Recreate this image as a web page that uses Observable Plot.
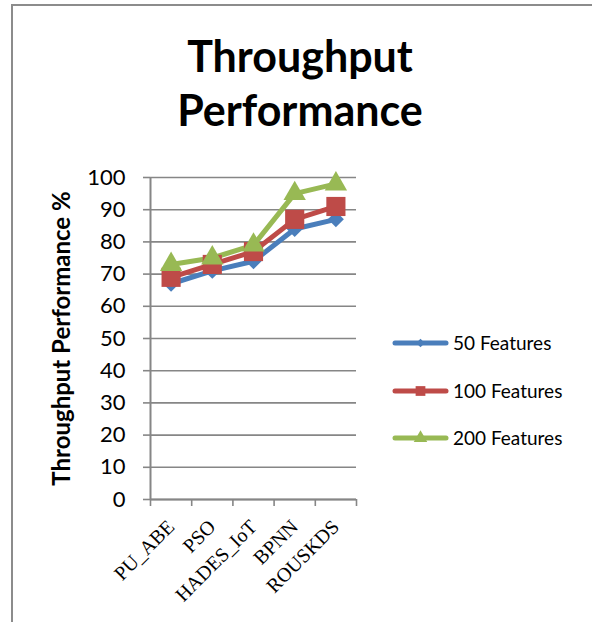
<!DOCTYPE html>
<html><head><meta charset="utf-8">
<script src="https://cdn.jsdelivr.net/npm/d3@7"></script>
<script src="https://cdn.jsdelivr.net/npm/@observablehq/plot@0.6"></script>
<style>
body{margin:0;background:#fff;}
#wrap{position:relative;width:592px;height:622px;overflow:hidden;font-family:Lato,sans-serif;background:#fff;}
#frame{position:absolute;left:11px;top:4px;width:700px;height:700px;border-left:2px solid #8c8c8c;border-top:2px solid #8c8c8c;}
#title{position:absolute;left:0;width:600px;top:29px;text-align:center;font-weight:700;font-size:43px;line-height:54px;color:#000;}
#chart{position:absolute;left:0;top:0;}
#legend{position:absolute;left:0;top:0;}
</style></head>
<body>
<div id="wrap">
  <div id="frame"></div>
  <div id="chart"></div>
  <div id="title">Throughput<br>Performance</div>
  <svg id="legend" width="592" height="622"></svg>
</div>
<script>
const categories = ["PU_ABE", "PSO", "HADES_IoT", "BPNN", "ROUSKDS"];
const series = ["50 Features", "100 Features", "200 Features"];
const values50 = [67, 71, 74, 84, 87];
const values100 = [69, 73, 77, 87, 91];
const values200 = [73, 75, 79, 95, 98];
const yTicks = [0, 10, 20, 30, 40, 50, 60, 70, 80, 90, 100];
const colors = ["#4a7ebb", "#be4b48", "#98b954"];
const symbols = ["diamond2", "square", "triangle"];
const markerR = [7.2, 10.8, 8.3];
const yLabel = "Throughput Performance %";

const seriesValues = [values50, values100, values200];
const rows = [];
series.forEach((s, si) => {
  categories.forEach((c, ci) => {
    rows.push({series: s, category: c, xi: ci + 0.5, value: seriesValues[si][ci]});
  });
});

const gray = "#868686";
const plot = Plot.plot({
  width: 592,
  height: 622,
  marginLeft: 150,
  marginRight: 236,
  marginTop: 177,
  marginBottom: 123,
  style: {fontFamily: "Lato, sans-serif", color: "#000", background: "transparent"},
  x: {type: "linear", domain: [0, categories.length]},
  y: {domain: [0, 100]},
  color: {domain: series, range: colors},
  symbol: {domain: series, range: symbols},
  marks: [
    Plot.gridY(yTicks, {stroke: gray, strokeOpacity: 1, strokeWidth: 1.6}),
    Plot.ruleX([0], {stroke: gray, strokeWidth: 2}),
    Plot.ruleY([0], {stroke: gray, strokeWidth: 2}),
    Plot.axisY({ticks: yTicks, tickSize: 7, tickPadding: 18, stroke: gray, strokeWidth: 1.6, fill: "#000", fontSize: 22, label: null}),
    Plot.axisX({ticks: d3.range(categories.length + 1), tickSize: 7, tickFormat: () => "", stroke: gray, strokeWidth: 1.6, label: null}),
    Plot.axisX({ticks: categories.map((c, i) => i + 0.5), tickFormat: (d) => categories[Math.floor(d)], tickSize: 0, tickPadding: 24, tickRotate: -45, fill: "#000", fontSize: 20, fontFamily: "Liberation Serif, serif", label: null}),
    Plot.text([yLabel], {frameAnchor: "left", textAnchor: "middle", rotate: -90, dx: -88, fontSize: 24, fontWeight: "bold", fill: "#000", text: d => d}),
    Plot.line(rows, {x: "xi", y: "value", z: "series", stroke: "series", strokeWidth: 5, strokeLinejoin: "round", strokeLinecap: "round"}),
    ...series.map((s, si) => Plot.dot(rows.filter(r => r.series === s), {x: "xi", y: "value", symbol: "series", fill: "series", stroke: "none", r: markerR[si]}))
  ]
});
document.getElementById("chart").appendChild(plot);

// legend
const lg = d3.select("#legend");
const legendY = [343, 391, 438];
series.forEach((s, i) => {
  const g = lg.append("g").attr("transform", `translate(0,${legendY[i]})`);
  g.append("line").attr("x1", 395).attr("x2", 446).attr("y1", 0).attr("y2", 0)
    .attr("stroke", colors[i]).attr("stroke-width", 5).attr("stroke-linecap", "round");
  const sym = {diamond2: d3.symbolDiamond2, square: d3.symbolSquare, triangle: d3.symbolTriangle}[symbols[i]];
  const sizes = [45, 95, 80];
  g.append("path").attr("transform", "translate(420.5,0)").attr("d", d3.symbol(sym, sizes[i])()).attr("fill", colors[i]);
  g.append("text").attr("x", 453).attr("y", 0).attr("dy", "0.35em").attr("font-size", 19)
    .attr("font-family", "Lato, sans-serif").attr("fill", "#000").text(s);
});
</script>
</body></html>
